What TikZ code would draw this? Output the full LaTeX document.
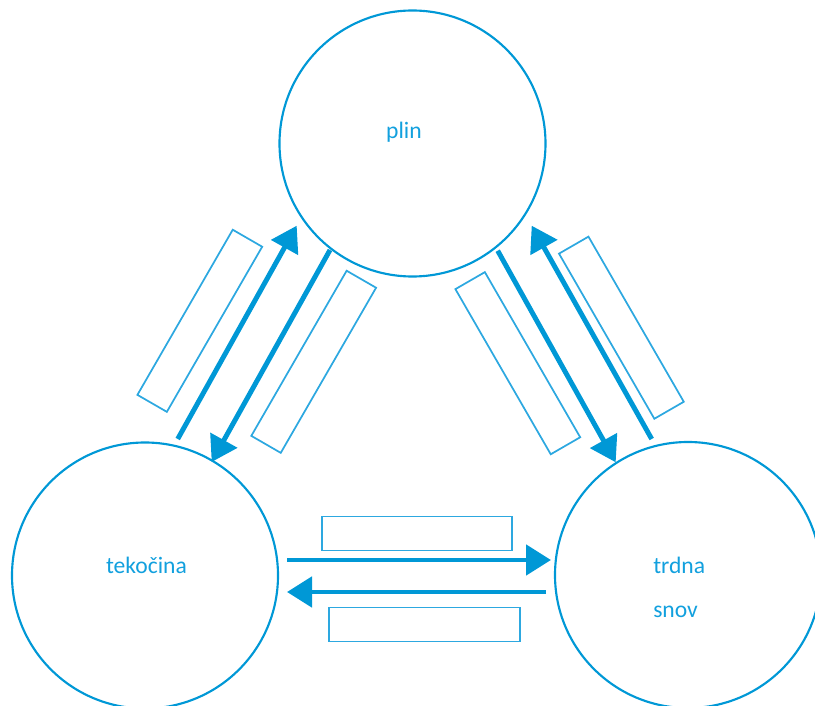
\documentclass[tikz,border=0pt]{standalone}
\usepackage{fontspec}
\setmainfont{Carlito}
\usetikzlibrary{arrows.meta}
\definecolor{ringblue}{RGB}{0,152,214}
\definecolor{boxblue}{RGB}{45,168,224}
\definecolor{labelblue}{RGB}{18,160,222}
\begin{document}
\begin{tikzpicture}[x=0.75pt,y=-0.75pt,
  phase/.style={circle,draw=ringblue,line width=1.6pt,minimum size=199.5pt,inner sep=0pt},
  phaselabel/.style={text=labelblue,font=\fontsize{17.7pt}{20pt}\selectfont,inner sep=0pt},
  blank/.style={draw=boxblue,line width=1.3pt,minimum width=143pt,minimum height=25.5pt,inner sep=0pt},
  change/.style={draw=ringblue,line width=3.7pt,-{Triangle[length=18.75pt,width=22.5pt]}}]
\useasboundingbox (0,0) rectangle (815,706);
\clip (0,0) rectangle (815,706);

% the three states of matter
\node[phase] (gas) at (412.5,143.5) {};
\node[phase] (liquid) at (145,575.5) {};
\node[phase] (solid) at (688,575) {};

\node[phaselabel,anchor=base] (gaslbl) at (404,139) {plin};
\node[phaselabel,anchor=base] (liqlbl) at (146.5,573) {tekočina};
\node[phaselabel,anchor=base west] (sollbl1) at (653,573) {trdna};
\node[phaselabel,anchor=base west] (sollbl2) at (653,617) {snov};

% empty answer boxes beside the arrows
\node[blank,rotate=60] (b1) at (199.8,320.8) {};
\node[blank,rotate=60] (b2) at (313.7,361.8) {};
\node[blank,rotate=-60] (b3) at (517.8,363.2) {};
\node[blank,rotate=-60] (b4) at (621.4,327.7) {};
\node[blank] (b5) at (417,533.5) {};
\node[blank] (b6) at (424.5,624.5) {};

% arrow end points
\coordinate (lu1) at (177.7,439);   \coordinate (lu2) at (296.7,225.7);
\coordinate (ld1) at (330,250);     \coordinate (ld2) at (211.7,462);
\coordinate (rd1) at (497.7,250.7); \coordinate (rd2) at (615.7,462.3);
\coordinate (ru1) at (651.7,439);   \coordinate (ru2) at (531.7,225.7);
\coordinate (hr1) at (287,560);     \coordinate (hr2) at (551,560);
\coordinate (hl1) at (546,592);     \coordinate (hl2) at (287,592);

% phase transitions
\draw[change] (lu1) -- (lu2);
\draw[change] (ld1) -- (ld2);
\draw[change] (rd1) -- (rd2);
\draw[change] (ru1) -- (ru2);
\draw[change] (hr1) -- (hr2);
\draw[change] (hl1) -- (hl2);
\end{tikzpicture}
\end{document}
